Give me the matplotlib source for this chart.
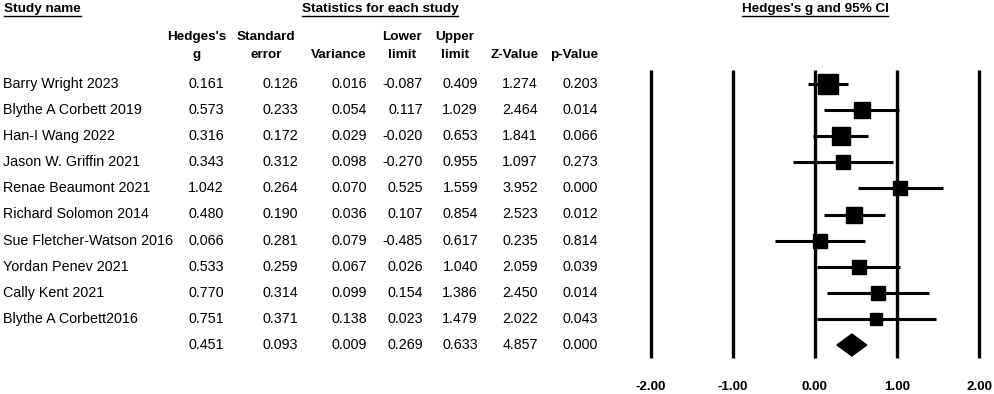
import matplotlib
matplotlib.use("Agg")
import matplotlib.pyplot as plt
import matplotlib.transforms as mtransforms
from matplotlib.lines import Line2D
from matplotlib.patches import Polygon

plt.rcParams['font.family'] = ['Liberation Sans', 'DejaVu Sans']

# data
studies = ["Barry Wright 2023", "Blythe A Corbett 2019", "Han-I Wang 2022",
           "Jason W. Griffin 2021", "Renae Beaumont 2021", "Richard Solomon 2014",
           "Sue Fletcher-Watson 2016", "Yordan Penev 2021", "Cally Kent 2021",
           "Blythe A Corbett2016"]
hedges_g = [0.161, 0.573, 0.316, 0.343, 1.042, 0.480, 0.066, 0.533, 0.770, 0.751]
std_err = [0.126, 0.233, 0.172, 0.312, 0.264, 0.190, 0.281, 0.259, 0.314, 0.371]
variance = [0.016, 0.054, 0.029, 0.098, 0.070, 0.036, 0.079, 0.067, 0.099, 0.138]
lower = [-0.087, 0.117, -0.020, -0.270, 0.525, 0.107, -0.485, 0.026, 0.154, 0.023]
upper = [0.409, 1.029, 0.653, 0.955, 1.559, 0.854, 0.617, 1.040, 1.386, 1.479]
z_value = [1.274, 2.464, 1.841, 1.097, 3.952, 2.523, 0.235, 2.059, 2.450, 2.022]
p_value = [0.203, 0.014, 0.066, 0.273, 0.000, 0.012, 0.814, 0.039, 0.014, 0.043]

# summary row
summary = [0.451, 0.093, 0.009, 0.269, 0.633, 4.857, 0.000]

col_headers = [("Hedges's", "g"), ("Standard", "error"), ("", "Variance"),
               ("Lower", "limit"), ("Upper", "limit"), ("", "Z-Value"), ("", "p-Value")]
axis_ticks = [-2, -1, 0, 1, 2]

W, H = 995, 394
fig = plt.figure(figsize=(W / 100, H / 100), dpi=100)

# forest axes, full height, rows in data units
row_px = 26.1
first_row_px = 84
ax = fig.add_axes([640 / W, 0, 350 / W, 1])
ax.set_xlim(-2.13, 2.134)
ax.set_ylim((H - first_row_px) / row_px, -first_row_px / row_px)
ax.axis("off")

n = len(studies)
fs = 9.7
fs_body = 10.3
trans = mtransforms.blended_transform_factory(fig.transFigure, ax.transData)

# table text
col_right = [224, 298, 367, 423, 478, 538, 598]
col_center = [197, 266, 339, 402, 455, 515, 574]
for i in range(n):
    fig.text(3 / W, i, studies[i], transform=trans, fontsize=fs_body, va="center", ha="left")
    vals = [hedges_g[i], std_err[i], variance[i], lower[i], upper[i], z_value[i], p_value[i]]
    for x, v in zip(col_right, vals):
        fig.text(x / W, i, f"{v:.3f}", transform=trans, fontsize=fs_body, va="center", ha="right")
for x, v in zip(col_right, summary):
    fig.text(x / W, n, f"{v:.3f}", transform=trans, fontsize=fs_body, va="center", ha="right")

for x, (l1, l2) in zip(col_center, col_headers):
    if l1:
        fig.text(x / W, 1 - 37 / H, l1, fontsize=fs, fontweight="bold", ha="center", va="center")
    fig.text(x / W, 1 - 55 / H, l2, fontsize=fs, fontweight="bold", ha="center", va="center")

titles = [
    fig.text(4 / W, 1 - 9 / H, "Study name", fontsize=fs, fontweight="bold", ha="left", va="center"),
    fig.text(380 / W, 1 - 9 / H, "Statistics for each study", fontsize=fs, fontweight="bold", ha="center", va="center"),
    fig.text(815 / W, 1 - 9 / H, "Hedges's g and 95% CI", fontsize=fs, fontweight="bold", ha="center", va="center"),
]

# forest: reference lines
ax.vlines(axis_ticks, -0.55, n + 0.5, color="black", lw=2.4)
for t in axis_ticks:
    ax.text(t, n + 1.6, f"{t:.2f}", fontsize=fs, fontweight="bold", ha="center", va="center")

# CIs and squares
for i in range(n):
    ax.plot([lower[i], upper[i]], [i, i], color="black", lw=2.2, solid_capstyle="butt")
    size_px = 7.4 * variance[i] ** -0.25
    ax.plot(hedges_g[i], i, marker="s", color="black", markersize=size_px * 0.72, mec="black")

# summary diamond
g, ll, ul = summary[0], summary[3], summary[4]
h = 0.42
ax.add_patch(Polygon([(ll, n), (g, n - h), (ul, n), (g, n + h)], closed=True,
                     facecolor="black", edgecolor="black"))

# underline titles
fig.canvas.draw()
r = fig.canvas.get_renderer()
inv = fig.transFigure.inverted()
for t in titles:
    bb = t.get_window_extent(r).transformed(inv)
    fig.add_artist(Line2D([bb.x0, bb.x1], [bb.y0 - 1 / H, bb.y0 - 1 / H],
                          transform=fig.transFigure, color="black", lw=1.0))

fig.savefig("out.png", dpi=100)
